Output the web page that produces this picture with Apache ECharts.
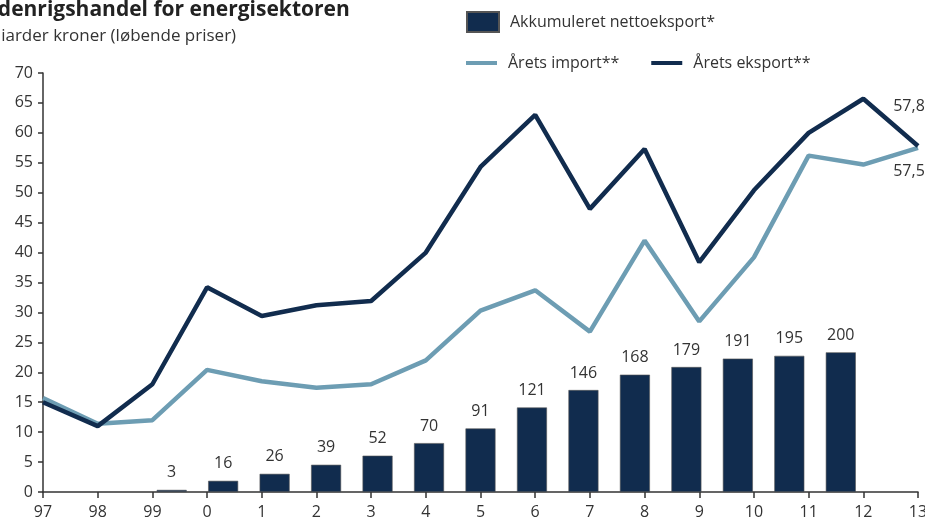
<!DOCTYPE html>
<html>
<head>
<meta charset="utf-8">
<script src="https://cdn.jsdelivr.net/npm/echarts@6/dist/echarts.min.js"></script>
<style>
  html, body { margin: 0; padding: 0; background: #fff; }
  #chart { width: 925px; height: 521px; }
</style>
</head>
<body>
<div id="chart"></div>
<script>
// years on the x axis
const years = ['97', '98', '99', '0', '1', '2', '3', '4', '5', '6', '7', '8', '9', '10', '11', '12', '13'];
// accumulated net export (bars, right hidden scale)
const netExportCum = [null, null, 3, 16, 26, 39, 52, 70, 91, 121, 146, 168, 179, 191, 195, 200, null];
// yearly import / export, bn DKK
const importVals = [15.7, 11.4, 12.0, 20.4, 18.5, 17.4, 18.0, 22.0, 30.3, 33.7, 26.8, 42.0, 28.5, 39.2, 56.2, 54.7, 57.5];
const exportVals = [15.0, 11.0, 18.0, 34.2, 29.4, 31.2, 31.9, 40.0, 54.3, 63.0, 47.3, 57.3, 38.4, 50.4, 60.0, 65.7, 57.8];

const darkBlue = '#112c4e';
const lightBlue = '#6d9db3';
const textColor = '#333333';
const font = 'Open Sans';

// only the last point gets a value label
function withEndLabel(values, pos) {
  return values.map((v, i) => i === values.length - 1
    ? { value: v, label: { show: true, position: pos, formatter: String(v).replace('.', ','),
        color: textColor, fontSize: 16, fontFamily: font, offset: [-9, pos === 'top' ? -27 : 11] } }
    : v);
}

const chart = echarts.init(document.getElementById('chart'));

const option = {
  animation: false,
  backgroundColor: '#ffffff',
  textStyle: { fontFamily: font },
  graphic: [
    { type: 'text', left: -18, top: 0,
      style: { text: 'Udenrigshandel for energisektoren', fill: '#222', fontSize: 21, fontWeight: 'bold', fontFamily: font } },
    { type: 'text', left: -27, top: 28,
      style: { text: 'Milliarder kroner (løbende priser)', fill: textColor, fontSize: 17, fontFamily: font } }
  ],
  legend: [
    {
      data: ['Akkumuleret nettoeksport*'],
      left: 466, top: 11, padding: 0,
      icon: 'rect',
      itemWidth: 32, itemHeight: 20,
      textStyle: { color: textColor, fontSize: 16, fontFamily: font, padding: [0, 0, 0, 6] }
    },
    {
      data: ['Årets import**', 'Årets eksport**'],
      left: 466, top: 55, padding: 0,
      icon: 'rect',
      itemWidth: 31, itemHeight: 4, itemGap: 32,
      textStyle: { color: textColor, fontSize: 16, fontFamily: font, padding: [0, 0, 0, 6] }
    }
  ],
  grid: { left: 43, right: 7, top: 73, bottom: 29, containLabel: false, outerBoundsMode: 'none' },
  xAxis: [
    {
      type: 'category', data: years, boundaryGap: false,
      axisLine: { lineStyle: { color: textColor, width: 1.5 } },
      axisTick: { show: true, length: 6, lineStyle: { color: textColor, width: 1.5 } },
      axisLabel: { color: textColor, fontSize: 16, fontFamily: font, margin: 12 }
    },
    {
      type: 'category', data: years, boundaryGap: true, show: false
    }
  ],
  yAxis: [
    {
      type: 'value', min: 0, max: 70, interval: 5,
      axisLine: { show: true, lineStyle: { color: textColor, width: 1.5 } },
      axisTick: { show: true, length: 5, lineStyle: { color: textColor, width: 1.5 } },
      axisLabel: { color: textColor, fontSize: 16, fontFamily: font, margin: 10 },
      splitLine: { show: false }
    },
    { type: 'value', min: 0, max: 600, show: false, splitLine: { show: false } }
  ],
  series: [
    {
      name: 'Akkumuleret nettoeksport*',
      type: 'bar', xAxisIndex: 1, yAxisIndex: 1,
      data: netExportCum, barWidth: 30,
      itemStyle: { color: darkBlue, borderColor: '#555', borderWidth: 0.6 },
      label: { show: true, position: 'top', distance: 9, color: textColor, fontSize: 16, fontFamily: font }
    },
    {
      name: 'Årets import**',
      type: 'line', data: withEndLabel(importVals, 'bottom'),
      showSymbol: true, symbol: 'circle', symbolSize: 0,
      lineStyle: { color: lightBlue, width: 4.5 }, itemStyle: { color: lightBlue }
    },
    {
      name: 'Årets eksport**',
      type: 'line', data: withEndLabel(exportVals, 'top'),
      showSymbol: true, symbol: 'circle', symbolSize: 0,
      lineStyle: { color: darkBlue, width: 4.5 }, itemStyle: { color: darkBlue }
    }
  ]
};

chart.setOption(option);
</script>
</body>
</html>
